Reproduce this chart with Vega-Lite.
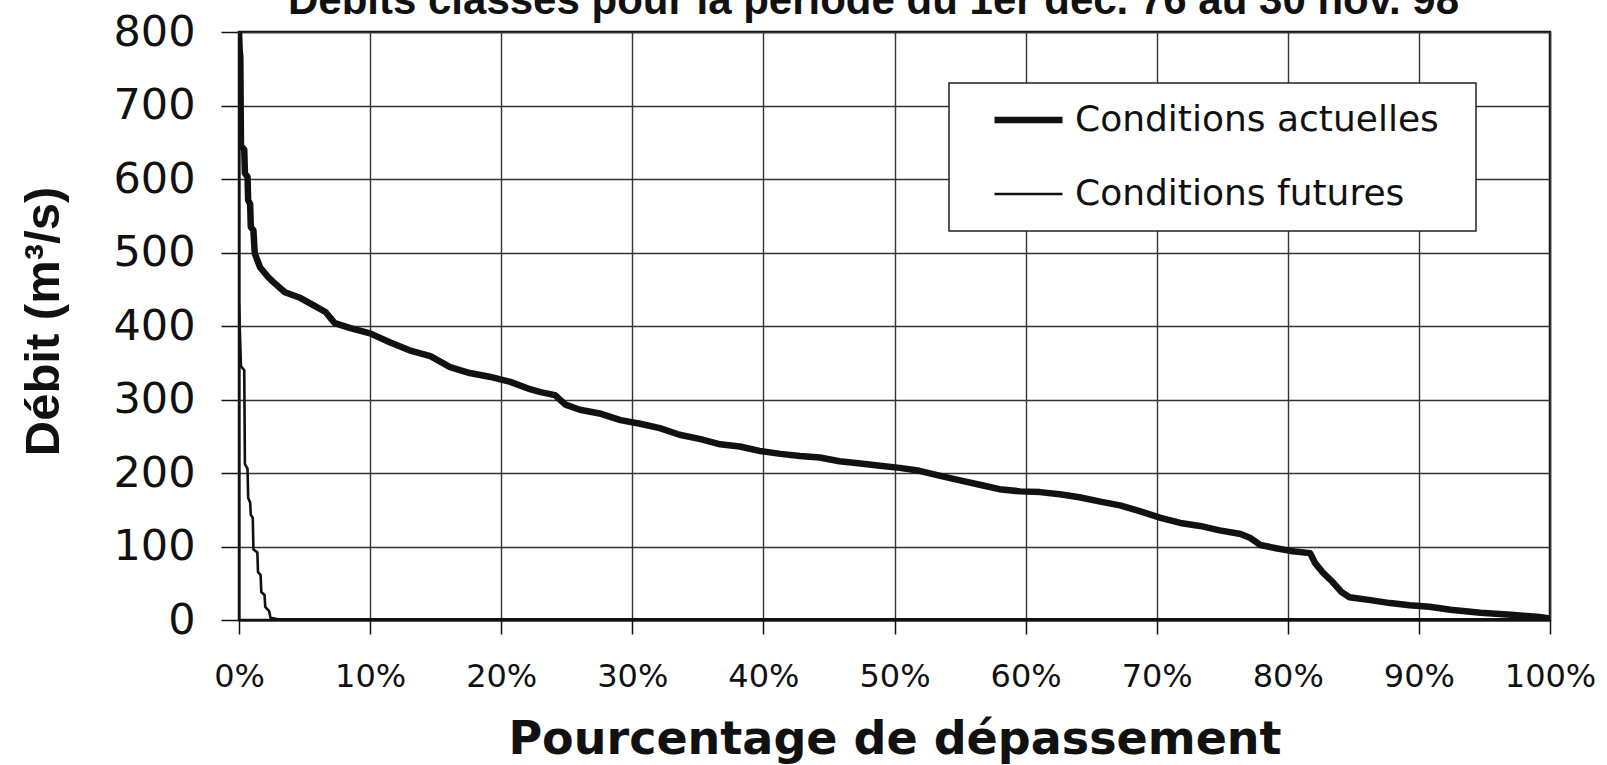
{
  "$schema": "https://vega.github.io/schema/vega-lite/v6.json",
  "width": 1311,
  "height": 588,
  "autosize": {"type": "none"},
  "padding": {"left": 239, "top": 32, "right": 57, "bottom": 145},
  "background": "white",
  "title": {
    "text": "Débits classés pour la période du 1er déc. 76 au 30 nov. 98",
    "font": "Liberation Sans",
    "fontWeight": "bold",
    "fontSize": 42,
    "anchor": "middle",
    "dx": -21,
    "offset": -45,
    "baseline": "alphabetic",
    "color": "#111"
  },
  "datasets": {
    "courbes": [
      {"serie": "Conditions actuelles", "pct": 0, "debit": 800},
      {"serie": "Conditions actuelles", "pct": 0.05, "debit": 775},
      {"serie": "Conditions actuelles", "pct": 0.1, "debit": 766},
      {"serie": "Conditions actuelles", "pct": 0.15, "debit": 645},
      {"serie": "Conditions actuelles", "pct": 0.4, "debit": 640},
      {"serie": "Conditions actuelles", "pct": 0.45, "debit": 608},
      {"serie": "Conditions actuelles", "pct": 0.65, "debit": 603},
      {"serie": "Conditions actuelles", "pct": 0.7, "debit": 571},
      {"serie": "Conditions actuelles", "pct": 0.85, "debit": 566},
      {"serie": "Conditions actuelles", "pct": 0.9, "debit": 535},
      {"serie": "Conditions actuelles", "pct": 1.1, "debit": 530},
      {"serie": "Conditions actuelles", "pct": 1.2, "debit": 499},
      {"serie": "Conditions actuelles", "pct": 1.6, "debit": 480},
      {"serie": "Conditions actuelles", "pct": 2.2, "debit": 467},
      {"serie": "Conditions actuelles", "pct": 2.6, "debit": 460},
      {"serie": "Conditions actuelles", "pct": 3.5, "debit": 446},
      {"serie": "Conditions actuelles", "pct": 4.7, "debit": 438},
      {"serie": "Conditions actuelles", "pct": 5.8, "debit": 427},
      {"serie": "Conditions actuelles", "pct": 6.6, "debit": 419},
      {"serie": "Conditions actuelles", "pct": 7.3, "debit": 404},
      {"serie": "Conditions actuelles", "pct": 8.5, "debit": 397},
      {"serie": "Conditions actuelles", "pct": 10, "debit": 390},
      {"serie": "Conditions actuelles", "pct": 11.5, "debit": 378},
      {"serie": "Conditions actuelles", "pct": 13, "debit": 367},
      {"serie": "Conditions actuelles", "pct": 14.6, "debit": 359},
      {"serie": "Conditions actuelles", "pct": 16.1, "debit": 344},
      {"serie": "Conditions actuelles", "pct": 17.6, "debit": 336},
      {"serie": "Conditions actuelles", "pct": 19.1, "debit": 331},
      {"serie": "Conditions actuelles", "pct": 20.7, "debit": 324},
      {"serie": "Conditions actuelles", "pct": 22.2, "debit": 314},
      {"serie": "Conditions actuelles", "pct": 23, "debit": 310},
      {"serie": "Conditions actuelles", "pct": 24.1, "debit": 306},
      {"serie": "Conditions actuelles", "pct": 24.9, "debit": 293},
      {"serie": "Conditions actuelles", "pct": 26, "debit": 286},
      {"serie": "Conditions actuelles", "pct": 27.5, "debit": 281},
      {"serie": "Conditions actuelles", "pct": 29.1, "debit": 272},
      {"serie": "Conditions actuelles", "pct": 30.6, "debit": 267},
      {"serie": "Conditions actuelles", "pct": 32.1, "debit": 261},
      {"serie": "Conditions actuelles", "pct": 33.6, "debit": 252},
      {"serie": "Conditions actuelles", "pct": 35.2, "debit": 246},
      {"serie": "Conditions actuelles", "pct": 36.7, "debit": 239},
      {"serie": "Conditions actuelles", "pct": 38.2, "debit": 236},
      {"serie": "Conditions actuelles", "pct": 39.7, "debit": 230},
      {"serie": "Conditions actuelles", "pct": 41.3, "debit": 226},
      {"serie": "Conditions actuelles", "pct": 42.8, "debit": 223},
      {"serie": "Conditions actuelles", "pct": 44.3, "debit": 221},
      {"serie": "Conditions actuelles", "pct": 45.8, "debit": 216},
      {"serie": "Conditions actuelles", "pct": 47.4, "debit": 213},
      {"serie": "Conditions actuelles", "pct": 48.9, "debit": 210},
      {"serie": "Conditions actuelles", "pct": 50.4, "debit": 207},
      {"serie": "Conditions actuelles", "pct": 51.9, "debit": 203},
      {"serie": "Conditions actuelles", "pct": 53.5, "debit": 196},
      {"serie": "Conditions actuelles", "pct": 55, "debit": 190},
      {"serie": "Conditions actuelles", "pct": 56.5, "debit": 184},
      {"serie": "Conditions actuelles", "pct": 58, "debit": 178},
      {"serie": "Conditions actuelles", "pct": 59.6, "debit": 175},
      {"serie": "Conditions actuelles", "pct": 61.1, "debit": 174},
      {"serie": "Conditions actuelles", "pct": 62.6, "debit": 171},
      {"serie": "Conditions actuelles", "pct": 64.1, "debit": 167},
      {"serie": "Conditions actuelles", "pct": 65.7, "debit": 161},
      {"serie": "Conditions actuelles", "pct": 67.2, "debit": 156},
      {"serie": "Conditions actuelles", "pct": 68.7, "debit": 148},
      {"serie": "Conditions actuelles", "pct": 70.3, "debit": 139},
      {"serie": "Conditions actuelles", "pct": 71.8, "debit": 132},
      {"serie": "Conditions actuelles", "pct": 73.3, "debit": 128},
      {"serie": "Conditions actuelles", "pct": 74.8, "debit": 122},
      {"serie": "Conditions actuelles", "pct": 76.4, "debit": 117},
      {"serie": "Conditions actuelles", "pct": 77.1, "debit": 112},
      {"serie": "Conditions actuelles", "pct": 77.9, "debit": 102},
      {"serie": "Conditions actuelles", "pct": 79, "debit": 98},
      {"serie": "Conditions actuelles", "pct": 80.2, "debit": 94},
      {"serie": "Conditions actuelles", "pct": 81.7, "debit": 91},
      {"serie": "Conditions actuelles", "pct": 82.1, "debit": 77},
      {"serie": "Conditions actuelles", "pct": 82.7, "debit": 64},
      {"serie": "Conditions actuelles", "pct": 83.4, "debit": 52},
      {"serie": "Conditions actuelles", "pct": 84.1, "debit": 38},
      {"serie": "Conditions actuelles", "pct": 84.7, "debit": 31},
      {"serie": "Conditions actuelles", "pct": 86.3, "debit": 27},
      {"serie": "Conditions actuelles", "pct": 87.8, "debit": 23},
      {"serie": "Conditions actuelles", "pct": 89.3, "debit": 20},
      {"serie": "Conditions actuelles", "pct": 90.8, "debit": 18},
      {"serie": "Conditions actuelles", "pct": 92.4, "debit": 14},
      {"serie": "Conditions actuelles", "pct": 94.7, "debit": 10},
      {"serie": "Conditions actuelles", "pct": 97, "debit": 7},
      {"serie": "Conditions actuelles", "pct": 99.2, "debit": 4},
      {"serie": "Conditions actuelles", "pct": 100, "debit": 2},
      {"serie": "Conditions futures", "pct": 0, "debit": 430},
      {"serie": "Conditions futures", "pct": 0.08, "debit": 385},
      {"serie": "Conditions futures", "pct": 0.15, "debit": 345},
      {"serie": "Conditions futures", "pct": 0.4, "debit": 340},
      {"serie": "Conditions futures", "pct": 0.45, "debit": 212},
      {"serie": "Conditions futures", "pct": 0.65, "debit": 206},
      {"serie": "Conditions futures", "pct": 0.7, "debit": 166},
      {"serie": "Conditions futures", "pct": 0.85, "debit": 160},
      {"serie": "Conditions futures", "pct": 0.9, "debit": 143},
      {"serie": "Conditions futures", "pct": 1.05, "debit": 139},
      {"serie": "Conditions futures", "pct": 1.1, "debit": 96},
      {"serie": "Conditions futures", "pct": 1.4, "debit": 92},
      {"serie": "Conditions futures", "pct": 1.45, "debit": 65},
      {"serie": "Conditions futures", "pct": 1.65, "debit": 61},
      {"serie": "Conditions futures", "pct": 1.7, "debit": 38},
      {"serie": "Conditions futures", "pct": 1.95, "debit": 34},
      {"serie": "Conditions futures", "pct": 2.0, "debit": 18},
      {"serie": "Conditions futures", "pct": 2.3, "debit": 12},
      {"serie": "Conditions futures", "pct": 2.4, "debit": 3},
      {"serie": "Conditions futures", "pct": 3, "debit": 1},
      {"serie": "Conditions futures", "pct": 100, "debit": 1}
    ]
  },
  "data": {"name": "courbes"},
  "mark": {"type": "line", "interpolate": "linear", "strokeJoin": "round", "clip": true},
  "encoding": {
    "x": {
      "field": "pct",
      "type": "quantitative",
      "scale": {"domain": [0, 100], "nice": false, "zero": false},
      "axis": {
        "values": [0, 10, 20, 30, 40, 50, 60, 70, 80, 90, 100],
        "labelExpr": "datum.value + '%'",
        "title": "Pourcentage de dépassement",
        "titleFont": "DejaVu Sans",
        "titleFontWeight": "bold",
        "titleFontSize": 46,
        "titleColor": "#111",
        "titleBaseline": "alphabetic",
        "titleY": 133,
        "labelFont": "DejaVu Sans",
        "labelFontSize": 32,
        "labelColor": "#111",
        "labelPadding": 27,
        "tickSize": 14,
        "labelFlush": false,
        "labelOverlap": false
      }
    },
    "y": {
      "field": "debit",
      "type": "quantitative",
      "scale": {"domain": [0, 800], "nice": false},
      "axis": {
        "values": [0, 100, 200, 300, 400, 500, 600, 700, 800],
        "title": "Débit (m³/s)",
        "titleFont": "Liberation Sans",
        "titleFontWeight": "bold",
        "titleFontSize": 49,
        "titleColor": "#111",
        "titleAngle": 270,
        "titleBaseline": "alphabetic",
        "titleAlign": "center",
        "titleX": -181,
        "titleY": 289,
        "labelFont": "DejaVu Sans",
        "labelFontSize": 43,
        "labelColor": "#111",
        "labelPadding": 26,
        "tickSize": 18,
        "labelFlush": false,
        "labelOverlap": false
      }
    },
    "color": {
      "field": "serie",
      "type": "nominal",
      "scale": {"domain": ["Conditions actuelles", "Conditions futures"], "range": ["#111111", "#111111"]},
      "legend": {"title": " "}
    },
    "strokeWidth": {
      "field": "serie",
      "type": "ordinal",
      "scale": {"domain": ["Conditions actuelles", "Conditions futures"], "range": [6.5, 2.6]},
      "legend": {"title": " "}
    }
  },
  "config": {
    "view": {"stroke": "#111", "strokeWidth": 2.5},
    "axis": {
      "grid": true,
      "gridColor": "#333",
      "gridWidth": 1.4,
      "gridOpacity": 1,
      "domainColor": "#111",
      "domainWidth": 2,
      "tickColor": "#111",
      "tickWidth": 1.5
    },
    "legend": {
      "orient": "none",
      "legendX": 710,
      "legendY": 51,
      "direction": "vertical",
      "fillColor": "white",
      "strokeColor": "#222",
      "strokeWidth": 1.5,
      "padding": 15,
      "titleOrient": "right",
      "titleFontSize": 2,
      "titlePadding": 22,
      "clipHeight": 44,
      "symbolType": "stroke",
      "symbolSize": 4624,
      "symbolOffset": 27,
      "labelFont": "DejaVu Sans",
      "labelFontSize": 36,
      "labelColor": "#111",
      "labelOffset": 9,
      "labelLimit": 600,
      "rowPadding": 30
    }
  }
}
